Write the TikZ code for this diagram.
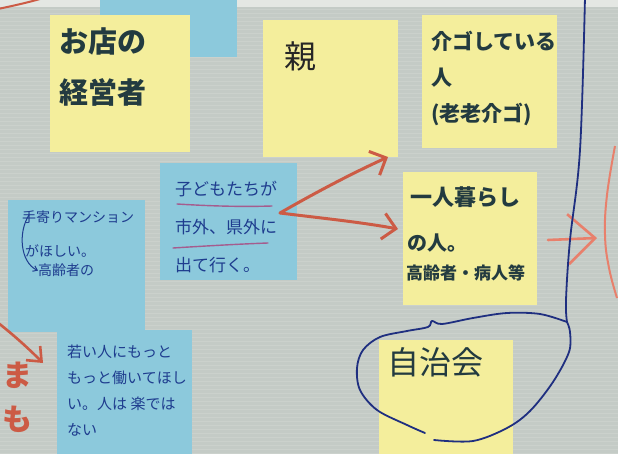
\documentclass[tikz,border=0pt]{standalone}
\usepackage{fontspec}
\newfontfamily\jp{Noto Sans CJK JP}
\usetikzlibrary{arrows.meta}
\definecolor{bgc}{HTML}{C4CBC6}
\definecolor{topc}{HTML}{E4E7E3}
\definecolor{ynote}{HTML}{F4EE9C}
\definecolor{bnote}{HTML}{8CC9DC}
\definecolor{marker}{HTML}{233B40}
\definecolor{pen}{HTML}{1E3C8E}
\definecolor{redm}{HTML}{CC5B45}
\definecolor{redl}{HTML}{E8806C}
\definecolor{navy}{HTML}{1F2F80}
\definecolor{pinkul}{HTML}{A55C8E}
\tikzset{
  note/.style={anchor=north west, inner sep=0pt, outer sep=0pt, minimum width=137pt, minimum height=136pt},
  ynotebox/.style={note, fill=ynote},
  bnotebox/.style={note, fill=bnote},
  mtext/.style={anchor=north west, inner sep=0pt, align=left, text=marker},
  ptext/.style={anchor=north west, inner sep=0pt, align=left, text=pen},
  redarrow/.style={draw=redm, line width=3pt, line cap=round, line join=round,
    -{Straight Barb[length=13pt,width=26pt]}},
  underl/.style={draw=pinkul, line width=1.4pt, line cap=round},
  navyline/.style={draw=navy, line width=1.8pt, line cap=round, line join=round}
}
\begin{document}
\begin{tikzpicture}[x=1pt,y=-1pt]
\useasboundingbox (0,0) rectangle (618,454);
\clip (0,0) rectangle (618,454);
% background board
\fill[bgc] (0,0) rectangle (618,454);
\foreach \yy in {9,13,...,454} \draw[white, opacity=0.12, line width=0.8pt] (0,\yy) -- (618,\yy);
\fill[topc] (0,0) rectangle (618,7);

% notes
\node[bnotebox, minimum height=57pt] (topblue) at (100,0) {};
\node[ynotebox, minimum width=140pt, minimum height=137pt] (mise) at (50,15) {};
\node[ynotebox, minimum width=135pt, minimum height=137pt] (oya) at (263,20) {};
\node[ynotebox, minimum width=135pt, minimum height=133pt] (kaigo) at (422,15) {};
\node[bnotebox, minimum height=132pt] (mansion) at (8,200) {};
\node[bnotebox, minimum height=117pt] (kodomo) at (160,163) {};
\node[ynotebox, minimum width=134pt, minimum height=133pt] (hitori) at (403,172) {};
\node[bnotebox, minimum width=135pt, minimum height=130pt] (wakai) at (57,330) {};
\node[ynotebox, minimum width=134pt, minimum height=120pt] (jichi) at (379,340) {};

% texts on yellow notes
\node[mtext, font=\jp\bfseries\fontsize{29}{51}\selectfont] (miset) at (59,28) {お店の\\経営者};
\node[anchor=north west, inner sep=0pt, text=black!85, font=\jp\fontsize{32}{36}\selectfont] (oyat) at (284,42) {親};
\node[mtext, font=\jp\bfseries\fontsize{21}{36}\selectfont] (kaigot) at (431,31) {介ゴしている\\人\\(老老介ゴ)};
\node[mtext, font=\jp\bfseries\fontsize{22}{26}\selectfont] (hitori1) at (410,186) {一人暮らし};
\node[mtext, font=\jp\bfseries\fontsize{20}{24}\selectfont] (hitori2) at (407,234) {の人。};
\node[mtext, font=\jp\bfseries\fontsize{17}{20}\selectfont] (hitori3) at (406,265) {高齢者・病人等};
\node[mtext, font=\jp\fontsize{32}{36}\selectfont] (jichit) at (387,347) {自治会};

% texts on blue notes
\node[ptext, font=\jp\fontsize{17}{38}\selectfont] (kodomot) at (175,181) {子どもたちが\\市外、県外に\\出て行く。};
\node[ptext, font=\jp\fontsize{14}{18}\selectfont] (mansion1) at (22,211) {手寄りマンション};
\node[ptext, font=\jp\fontsize{14}{18}\selectfont] (mansion2) at (25,244) {がほしい。};
\node[ptext, font=\jp\fontsize{14}{18}\selectfont] (mansion3) at (38,264) {高齢者の};
\node[ptext, font=\jp\fontsize{15}{26}\selectfont] (wakait) at (67,345) {若い人にもっと\\もっと働いてほし\\い。人は 楽では\\ない};

% underlines
\draw[underl] (177,204) .. controls (210,206) and (240,207) .. (272,206);
\draw[underl] (173,248) .. controls (205,246) and (240,244) .. (268,243);

% insertion arrow on the left blue note
\coordinate (insA) at (29,215);
\draw[draw=pen, line width=1pt, -{Straight Barb[length=4pt,width=6pt]}]
  (insA) .. controls (18,232) and (20,262) .. (mansion3.west);

% red arrows from the kodomo note
\coordinate (ks) at (280,213);
\coordinate (kUp) at (388,157);
\coordinate (kDn) at (398,229);
\draw[redarrow] (ks) .. controls (320,190) and (355,172) .. (kUp);
\draw[redarrow] (ks) .. controls (320,218) and (360,222) .. (kDn);

% red arrow on the right
\coordinate (rs) at (548,240);
\coordinate (rt) at (597,238);
\draw[draw=redl, line width=2.6pt, line cap=round, -{Straight Barb[length=27pt,width=50pt]}] (rs) -- (rt);
% big red arc at the right edge
\draw[draw=redl, line width=2pt] plot[smooth, tension=0.7] coordinates {(615,146) (607,195) (605,235) (609,268) (617,298)};
% red arc top-left
\draw[draw=redm, line width=2pt] (-2,9) .. controls (12,6) and (26,3) .. (40,-1);
% red arrow lower left
\coordinate (ls) at (-3,322);
\coordinate (lt) at (43,363);
\draw[draw=redm, line width=2.6pt, line cap=round, -{Straight Barb[length=12pt,width=20pt]}] (ls) .. controls (15,336) and (30,350) .. (lt);
\node[anchor=north west, inner sep=0pt, text=redm, font=\jp\bfseries\fontsize{30}{44}\selectfont, align=left] (redtxt) at (2,362) {ま\\も};

% navy line down to the ellipse around the jichi note
\coordinate (ntop) at (585,-3);
\coordinate (njoin) at (567,322);
\draw[navyline] plot[smooth, tension=0.6] coordinates {(ntop) (580,150) (570,240) (566,300) (njoin)};
\draw[navyline] plot[smooth, tension=0.55] coordinates {(njoin) (540,314) (507,313) (473,318) (442,324) (432,321) (428,327) (407,331) (380,337) (363,350) (357,368) (360,390) (377,410) (407,425) (425,433)};
\draw[navyline] plot[smooth, tension=0.55] coordinates {(434,440) (473,441) (507,428) (530,411) (553,382) (569,352) (570,332) (njoin)};
\end{tikzpicture}
\end{document}
